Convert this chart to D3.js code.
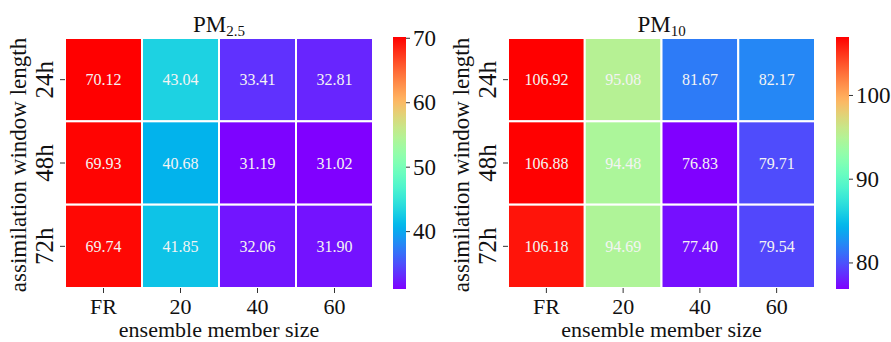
<!DOCTYPE html>
<html>
<head>
<meta charset="utf-8">
<script src="https://cdn.jsdelivr.net/npm/d3@7"></script>
<style>
  body { margin: 0; background: #fff; }
  svg, svg text { font-family: "Liberation Serif", "Times New Roman", serif; }
</style>
</head>
<body>
<svg id="chart" width="891" height="342"></svg>
<script>
const members = ["FR", "20", "40", "60"];
const windows = ["24h", "48h", "72h"];

const pm25 = [
  [70.12, 43.04, 33.41, 32.81],
  [69.93, 40.68, 31.19, 31.02],
  [69.74, 41.85, 32.06, 31.90]
];
const pm10 = [
  [106.92, 95.08, 81.67, 82.17],
  [106.88, 94.48, 76.83, 79.71],
  [106.18, 94.69, 77.40, 79.54]
];
const pm25Ticks = [40, 50, 60, 70];
const pm10Ticks = [80, 90, 100];

// matplotlib "rainbow" colormap
function rainbow(t) {
  const r = Math.min(1, Math.abs(2 * t - 0.5));
  const g = Math.sin(Math.PI * t);
  const b = Math.cos(Math.PI * t / 2);
  return d3.rgb(r * 255, g * 255, b * 255).formatHex();
}

const svg = d3.select("#chart");
const defs = svg.append("defs");

function drawPanel(cfg) {
  const { values, ticks, left, right, cbLeft, title, sub, id } = cfg;
  const top = 38, bottom = 288;
  const flat = values.flat();
  const vmin = d3.min(flat), vmax = d3.max(flat);
  const norm = d3.scaleLinear().domain([vmin, vmax]).range([0, 1]);

  const x = d3.scaleBand().domain(members).range([left, right]);
  const y = d3.scaleBand().domain(windows).range([top, bottom]);

  const g = svg.append("g");

  // cells
  const cells = [];
  values.forEach((row, i) => row.forEach((v, j) => cells.push({ r: windows[i], c: members[j], v })));

  g.selectAll("rect.cell")
    .data(cells)
    .join("rect")
    .attr("class", "cell")
    .attr("x", d => x(d.c))
    .attr("y", d => y(d.r))
    .attr("width", x.bandwidth())
    .attr("height", y.bandwidth())
    .attr("fill", d => rainbow(norm(d.v)))
    .attr("stroke", "#fff")
    .attr("stroke-width", 2);

  g.selectAll("text.val")
    .data(cells)
    .join("text")
    .attr("class", "val")
    .attr("x", d => x(d.c) + x.bandwidth() / 2)
    .attr("y", d => y(d.r) + y.bandwidth() / 2)
    .attr("dy", "0.35em")
    .attr("text-anchor", "middle")
    .attr("fill", "#f4f4f4")
    .style("font-size", "16px")
    .text(d => d.v.toFixed(2));

  // x axis
  const xAxis = g.append("g")
    .attr("transform", `translate(0,${bottom})`)
    .call(d3.axisBottom(x).tickSize(5).tickPadding(5))
    .attr("font-family", null);
  xAxis.select(".domain").remove();
  xAxis.selectAll("text").style("font-size", "22px").attr("fill", "#111");
  xAxis.selectAll("line").attr("stroke", "#333");

  // y axis, rotated labels
  const yAxis = g.append("g")
    .attr("transform", `translate(${left},0)`)
    .call(d3.axisLeft(y).tickSize(5).tickPadding(7))
    .attr("font-family", null);
  yAxis.select(".domain").remove();
  yAxis.selectAll("line").attr("stroke", "#333");
  yAxis.selectAll("text")
    .style("font-size", "25px")
    .attr("fill", "#111")
    .attr("text-anchor", "middle")
    .attr("x", null)
    .attr("dy", null)
    .attr("transform", "translate(-12,0) rotate(-90)");

  // axis titles
  g.append("text")
    .attr("x", (left + right) / 2)
    .attr("y", 337)
    .attr("text-anchor", "middle")
    .style("font-size", "22px")
    .attr("fill", "#111")
    .text("ensemble member size");

  g.append("text")
    .attr("transform", `translate(${left - 39},${(top + bottom) / 2 + 2}) rotate(-90)`)
    .attr("text-anchor", "middle")
    .style("font-size", "23px")
    .attr("fill", "#111")
    .text("assimilation window length");

  const t = g.append("text")
    .attr("x", (left + right) / 2)
    .attr("y", 32)
    .attr("text-anchor", "middle")
    .style("font-size", "23px")
    .attr("fill", "#111");
  t.append("tspan").text(title);
  t.append("tspan").attr("dy", 4).style("font-size", "15px").text(sub);

  // colorbar
  const cbTop = 37, cbBottom = 289, cbW = 13;
  const grad = defs.append("linearGradient")
    .attr("id", id)
    .attr("x1", 0).attr("y1", 1).attr("x2", 0).attr("y2", 0);
  d3.range(0, 1.0001, 0.02).forEach(s => {
    grad.append("stop").attr("offset", s).attr("stop-color", rainbow(s));
  });
  g.append("rect")
    .attr("x", cbLeft)
    .attr("y", cbTop)
    .attr("width", cbW)
    .attr("height", cbBottom - cbTop)
    .attr("fill", `url(#${id})`);

  const cy = d3.scaleLinear().domain([vmin, vmax]).range([cbBottom, cbTop]);
  const cAxis = g.append("g")
    .attr("transform", `translate(${cbLeft + cbW},0)`)
    .call(d3.axisRight(cy).tickValues(ticks).tickSize(4).tickPadding(3))
    .attr("font-family", null);
  cAxis.select(".domain").remove();
  cAxis.selectAll("line").attr("stroke", "#333");
  cAxis.selectAll("text").style("font-size", "23px").attr("fill", "#111");
}

drawPanel({ values: pm25, ticks: pm25Ticks, left: 65, right: 373, cbLeft: 393, title: "PM", sub: "2.5", id: "g25" });
drawPanel({ values: pm10, ticks: pm10Ticks, left: 508, right: 815, cbLeft: 836, title: "PM", sub: "10", id: "g10" });
</script>
</body>
</html>
